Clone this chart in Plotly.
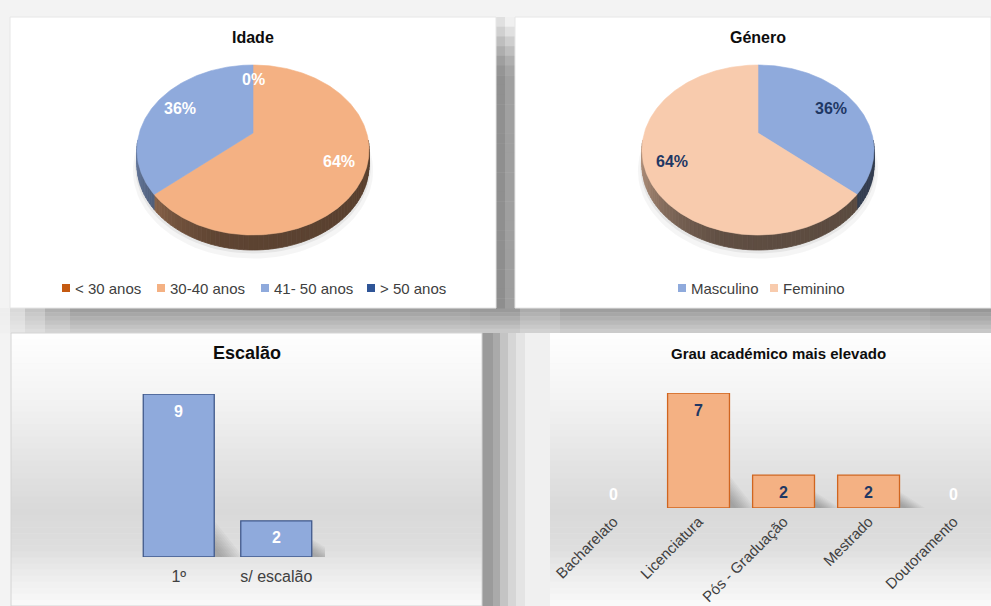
import math
import plotly.graph_objects as go

W, H = 991, 606

# ---- data -------------------------------------------------------------
idade_labels = ["< 30 anos", "30-40 anos", "41- 50 anos", "> 50 anos"]
idade_values = [0, 7, 4, 0]
idade_colors = ["#c55a11", "#f4b183", "#8faadc", "#2f5597"]

genero_labels = ["Masculino", "Feminino"]
genero_values = [4, 7]
genero_colors = ["#8faadc", "#f8cbad"]

escalao_labels = ["1º", "s/ escalão"]
escalao_values = [9, 2]

grau_labels = ["Bacharelato", "Licenciatura", "Pós - Graduação", "Mestrado", "Doutoramento"]
grau_values = [0, 7, 2, 2, 0]

FONT = "Liberation Sans, Arial, sans-serif"
NAVY = "#1f3864"
TEXT = "#404040"
BARGAP = 0.272


def fx(x):
    return x / W


def fy(y):
    return 1 - y / H


def hex_rgb(c):
    c = c.lstrip("#")
    return tuple(int(c[i:i + 2], 16) for i in (0, 2, 4))


def shade(c, f):
    r, g, b = hex_rgb(c)
    return "rgb(%d,%d,%d)" % (r * f, g * f, b * f)


def lerp_table(t, table):
    for (t0, v0), (t1, v1) in zip(table, table[1:]):
        if t0 <= t <= t1:
            return v0 + (v1 - v0) * (t - t0) / (t1 - t0)
    return table[0][1] if t < table[0][0] else table[-1][1]


fig = go.Figure()
shapes = []
annotations = []


def rect(x0, y0, x1, y1, color, line=None):
    shapes.append(dict(type="rect", xref="paper", yref="paper", layer="below",
                       x0=fx(x0), x1=fx(x1), y0=fy(y1), y1=fy(y0),
                       fillcolor=color,
                       line=dict(width=1 if line else 0, color=line or color)))


def gray(v):
    v = int(round(v))
    return "rgb(%d,%d,%d)" % (v, v, v)


# ---- page background and panel frames ---------------------------------
rect(0, 0, W, H, "#f3f3f3")
# shadow band between the two rows
rows = 6
for i in range(rows):
    ya, yb = 308 + i * 25 / rows, 308 + (i + 1) * 25 / rows
    base = 158 + i * 9
    cols = [(0, 10, 0.05), (10, 25, 0.3), (25, 45, 0.55), (45, 70, 0.8), (70, 470, 1.0),
            (470, 520, 1.05), (520, 560, 0.85), (560, 930, 1.0), (930, 991, 1.08)]
    for xa, xb, k in cols:
        v = 242 - (242 - base) * k
        rect(xa, ya, xb, yb + 0.5, gray(v))
# gap between the two top panels
gap_tab = [(17, 238), (25, 228), (40, 200), (60, 168), (75, 152), (308, 150)]
for i in range(30):
    ya, yb = 17 + i * 291 / 30, 17 + (i + 1) * 291 / 30
    v = lerp_table((ya + yb) / 2, gap_tab)
    rect(496, ya, 505, yb + 0.5, gray(v - 8))
    rect(505, ya, 515, yb + 0.5, gray(v + 8))
# gap between the two bottom panels
for xa, xb, v in [(482, 493, 155), (493, 500, 170), (500, 508, 196), (508, 516, 214),
                  (516, 525, 228), (525, 550, 240)]:
    rect(xa, 333, xb, H, gray(v))

# top panels (white)
rect(10, 17, 496, 308, "#ffffff", "#e6e6e6")
rect(515, 17, 991, 308, "#ffffff", "#e6e6e6")

# bottom panels (vertical gray gradient)
grad = [(0, 254), (0.2, 246), (0.45, 229), (0.65, 217), (0.78, 221), (0.9, 238), (1, 250)]
N = 45
for px0, px1 in [(11, 482), (550, 991)]:
    for i in range(N):
        ya = 333 + (H - 333) * i / N
        yb = 333 + (H - 333) * (i + 1) / N + 0.5
        rect(px0, ya, px1, yb, gray(lerp_table((i + 0.5) / N, grad)))
shapes.append(dict(type="rect", xref="paper", yref="paper", layer="below",
                   x0=fx(11), x1=fx(482), y0=fy(H), y1=fy(333),
                   fillcolor="rgba(0,0,0,0)", line=dict(width=1, color="#d4d4d4")))


# ---- 3D-looking pies drawn on a full-page pixel axis --------------------
R, R2, K, DEPTH = 113.7, 81.6, 0.2, 15


def pie3d(values, colors, cx, cy, label_color):
    total = float(sum(values))

    def edge(theta):
        t = math.radians(theta)
        u, w = math.sin(t), math.cos(t)
        s = 1 / (1 + K * w)
        return cx + R * u * s, cy - R2 * w * s

    # soft ground shadow
    for grow, dy, alpha in [(1.035, DEPTH + 5, 0.04), (1.015, DEPTH + 2, 0.06)]:
        xs, ys = [], []
        for a in range(0, 361, 3):
            x, y = edge(a)
            xs.append(cx + (x - cx) * grow)
            ys.append(cy + (y - cy) * grow + dy)
        fig.add_trace(go.Scatter(x=xs, y=ys, xaxis="x3", yaxis="y3", mode="lines",
                                 fill="toself", fillcolor="rgba(0,0,0,%g)" % alpha,
                                 line=dict(width=0), hoverinfo="skip", showlegend=False))

    wall_light = [(95, 0.36), (180, 0.38), (195, 0.39), (215, 0.47), (240, 0.63), (265, 0.72)]
    slices = []
    a0 = 0.0
    for v, c in zip(values, colors):
        a1 = a0 + 360 * v / total
        slices.append((a0, a1, v, c))
        a0 = a1

    # side walls
    for a0, a1, v, c in slices:
        lo, hi = max(a0, 95), min(a1, 265)
        if v == 0 or hi <= lo:
            continue
        n = max(1, int(math.ceil((hi - lo) / 2.0)))
        for j in range(n):
            t0 = lo + (hi - lo) * j / n
            t1 = lo + (hi - lo) * (j + 1) / n
            (xa, ya), (xb, yb) = edge(t0), edge(t1)
            col = shade(c, lerp_table((t0 + t1) / 2, wall_light))
            fig.add_trace(go.Scatter(
                x=[xa, xb, xb, xa, xa], y=[ya, yb, yb + DEPTH, ya + DEPTH, ya],
                xaxis="x3", yaxis="y3", mode="lines", fill="toself", fillcolor=col,
                line=dict(width=0.8, color=col), hoverinfo="skip", showlegend=False))

    # top faces
    for a0, a1, v, c in slices:
        if v == 0:
            continue
        n = max(2, int(math.ceil(a1 - a0)))
        xs, ys = [cx], [cy]
        for j in range(n + 1):
            x, y = edge(a0 + (a1 - a0) * j / n)
            xs.append(x)
            ys.append(y)
        xs.append(cx)
        ys.append(cy)
        fig.add_trace(go.Scatter(x=xs, y=ys, xaxis="x3", yaxis="y3", mode="lines",
                                 fill="toself", fillcolor=c, line=dict(width=0.6, color=c),
                                 hoverinfo="skip", showlegend=False))

    # percentage labels
    seen = set()
    for a0, a1, v, c in slices:
        mid = (a0 + a1) / 2
        x, y = edge(mid)
        lx, ly = cx + (x - cx) * 0.76, cy + (y - cy) * 0.78
        key = (round(lx), round(ly))
        if key in seen:
            continue
        seen.add(key)
        annotations.append(dict(x=lx, y=ly, xref="x3", yref="y3", showarrow=False,
                                xanchor="center", yanchor="middle",
                                text="<b>%d%%</b>" % round(100 * v / total),
                                font=dict(family=FONT, size=16, color=label_color)))


pie3d(idade_values, idade_colors, 253, 133, "#ffffff")
pie3d(genero_values, genero_colors, 758, 133, NAVY)


# ---- legends ------------------------------------------------------------
def legend(items, colors, xs, y):
    for lab, c, x in zip(items, colors, xs):
        rect(x, y - 4, x + 8, y + 4, c)
        annotations.append(dict(x=fx(x + 11), y=fy(y), xref="paper", yref="paper",
                                xanchor="left", yanchor="middle", showarrow=False, text=lab,
                                font=dict(family=FONT, size=15, color=TEXT)))


legend(idade_labels, idade_colors, [62, 157, 261, 367], 288)
legend(genero_labels, genero_colors, [678, 770], 288)


# ---- bar charts ---------------------------------------------------------
def bar_shadows(values, xref, yref):
    """Soft cast shadow to the right of each non-empty bar."""
    half = (1 - BARGAP) / 2
    layers = 10
    for i, v in enumerate(values):
        if v <= 0:
            continue
        h = min(0.5 * v, 2.0)
        xr = i + half
        for k in range(layers):
            grow = 1.0 - 0.08 * k
            path = "M %.4f,0 L %.4f,%.4f L %.4f,0 Z" % (xr, xr, h * grow, xr + 0.30 * grow)
            shapes.append(dict(type="path", xref=xref, yref=yref, layer="below", path=path,
                               fillcolor="rgba(0,0,0,0.028)", line=dict(width=0)))


bar_shadows(escalao_values, "x", "y")
bar_shadows(grau_values, "x2", "y2")

fig.add_trace(go.Bar(x=escalao_labels, y=escalao_values, xaxis="x", yaxis="y",
                     marker=dict(color="#8faadc",
                                 line=dict(color="#41598b",
                                           width=[1.3 if v > 0 else 0 for v in escalao_values])),
                     hoverinfo="skip", showlegend=False))
for lab, v in zip(escalao_labels, escalao_values):
    annotations.append(dict(x=lab, y=v, xref="x", yref="y", yshift=-17, showarrow=False,
                            yanchor="middle", text="<b>%d</b>" % v,
                            font=dict(family=FONT, size=16, color="#ffffff")))

fig.add_trace(go.Bar(x=grau_labels, y=grau_values, xaxis="x2", yaxis="y2",
                     marker=dict(color="#f4b183",
                                 line=dict(color="#d0651f",
                                           width=[1.3 if v > 0 else 0 for v in grau_values])),
                     hoverinfo="skip", showlegend=False))
for lab, v in zip(grau_labels, grau_values):
    annotations.append(dict(x=lab, y=v, xref="x2", yref="y2",
                            yshift=-17 if v > 0 else 14, showarrow=False,
                            yanchor="middle", text="<b>%d</b>" % v,
                            font=dict(family=FONT, size=16,
                                      color=NAVY if v > 0 else "#ffffff")))

# ---- titles -------------------------------------------------------------
for text, x, y, size in [("Idade", 253, 37, 16), ("Género", 758, 37, 16),
                         ("Escalão", 247, 353, 18), ("Grau académico mais elevado", 778, 353, 15)]:
    annotations.append(dict(x=fx(x), y=fy(y), xref="paper", yref="paper", showarrow=False,
                            xanchor="center", yanchor="middle",
                            text="<b>%s</b>" % text,
                            font=dict(family=FONT, size=size, color="#0d0d0d")))

axis_off = dict(showgrid=False, zeroline=False, showline=False, ticks="", automargin=False)

fig.update_layout(
    width=W, height=H, margin=dict(l=0, r=0, t=0, b=0, pad=0, autoexpand=False),
    paper_bgcolor="#f3f3f3", plot_bgcolor="rgba(0,0,0,0)",
    showlegend=False, bargap=BARGAP,
    xaxis=dict(domain=[fx(130), fx(325)], anchor="y", type="category",
               range=[-0.5, len(escalao_labels) - 0.5],
               tickfont=dict(family=FONT, size=16, color=TEXT), ticklabelstandoff=8,
               fixedrange=True, **axis_off),
    yaxis=dict(domain=[fy(557), fy(394)], anchor="x", range=[0, max(escalao_values)],
               showticklabels=False, **axis_off),
    xaxis2=dict(domain=[fx(571), 1], anchor="y2", type="category", range=[-0.5, 4.44],
                tickangle=-45, tickfont=dict(family=FONT, size=15, color=TEXT),
                ticklabelstandoff=1, **axis_off),
    yaxis2=dict(domain=[fy(508), fy(393)], anchor="x2", range=[0, max(grau_values)],
                showticklabels=False, **axis_off),
    xaxis3=dict(domain=[0, 1], anchor="y3", range=[0, W], visible=False, **axis_off),
    yaxis3=dict(domain=[0, 1], anchor="x3", range=[H, 0], visible=False, **axis_off),
    shapes=shapes, annotations=annotations,
)

fig.write_html("out.html")
